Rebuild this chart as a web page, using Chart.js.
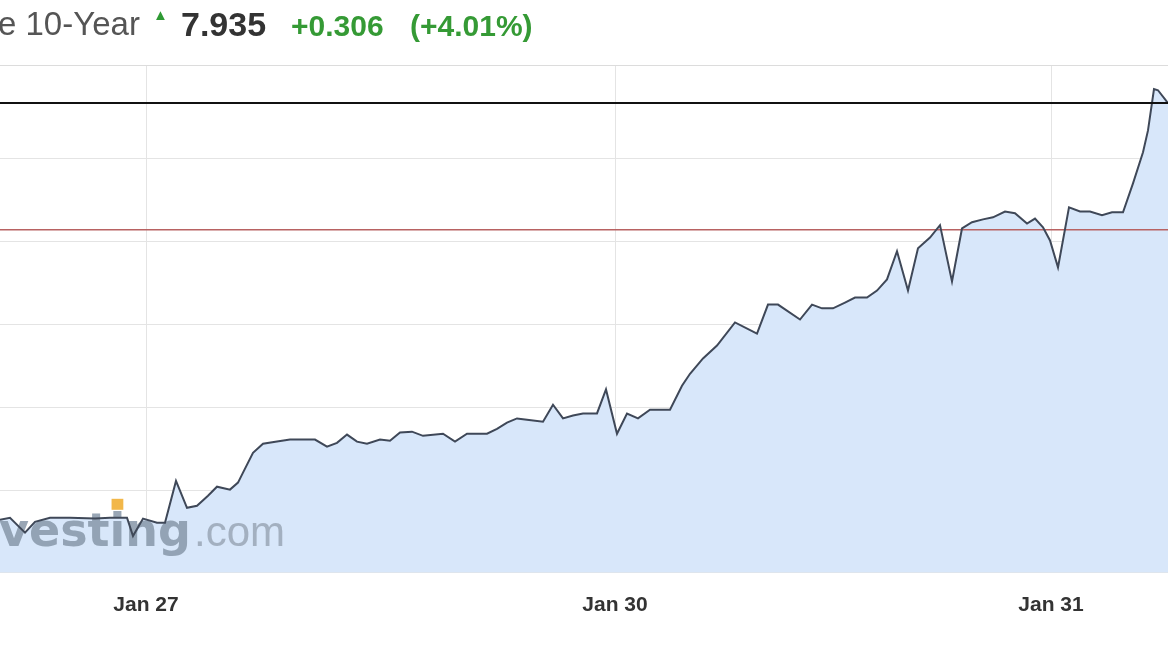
<!DOCTYPE html>
<html>
<head>
<meta charset="utf-8">
<script src="https://cdn.jsdelivr.net/npm/chart.js@4.4.1/dist/chart.umd.min.js"></script>
<style>
    body { margin: 0; background: #fff; overflow: hidden; }
    #wrap { position: relative; width: 1168px; height: 656px; }
    #chart { position: absolute; left: 0; top: 0; }
    .hdr { position: absolute; white-space: nowrap; font-family: "Liberation Sans", Arial, sans-serif; }
    .name { left: -2px; top: 7px; font-size: 33px; line-height: 34px; color: #555; }
    .arrow { left: 153px; top: 7px; font-size: 15px; line-height: 16px; color: #2f9a34; }
    .last { left: 181px; top: 7px; font-size: 34px; line-height: 34px; color: #333; font-weight: bold; }
    .chg { top: 11px; font-size: 30px; line-height: 30px; color: #359a35; font-weight: bold; }
</style>
</head>
<body>
<div id="wrap">
    <canvas id="chart" width="1168" height="656"></canvas>
    <div class="hdr name">e 10-Year</div>
    <div class="hdr arrow">&#9650;</div>
    <div class="hdr last">7.935</div>
    <div class="hdr chg" style="left:291px">+0.306</div>
    <div class="hdr chg" style="left:410px">(+4.01%)</div>
</div>
<script>
// quote position (intraday index) and yield
const times = [0, 1.0, 2.5, 3.5, 5.0, 7.0, 9.5, 11.0, 12.7, 13.3, 14.3, 15.7, 16.5, 17.6, 18.7, 19.7,
    20.8, 21.7, 23.0, 23.8, 24.3, 25.3, 26.3, 27.7, 29.0, 30.0, 31.5, 32.7, 33.7, 34.7, 35.7, 36.7,
    38.0, 39.0, 40.0, 41.2, 42.3, 44.3, 45.5, 46.7, 48.7, 49.7, 50.7, 51.7, 52.7, 54.3, 55.3, 56.3,
    57.3, 58.3, 59.7, 60.6, 61.7, 62.7, 63.8, 65.0, 67.0, 68.2, 69.0, 70.3, 71.7, 73.5, 75.7, 76.8,
    77.8, 80.0, 81.2, 82.2, 83.3, 84.5, 85.5, 86.7, 87.7, 88.7, 89.7, 90.8, 91.8, 93.0, 94.0, 95.2,
    96.2, 97.2, 98.3, 99.3, 100.5, 101.5, 102.7, 103.5, 104.3, 105.0, 105.8, 106.9, 108.0, 109.0,
    110.2, 111.2, 112.3, 113.3, 114.3, 114.8, 115.4, 115.8, 116.8];
const yields = [6.928, 6.933, 6.897, 6.923, 6.933, 6.933, 6.931, 6.933, 6.933, 6.889, 6.931, 6.921, 6.921, 7.022, 6.957, 6.962,
    6.986, 7.008, 7.001, 7.018, 7.042, 7.090, 7.112, 7.117, 7.122, 7.122, 7.122, 7.105, 7.114, 7.134, 7.117, 7.112,
    7.122, 7.119, 7.139, 7.141, 7.131, 7.136, 7.117, 7.136, 7.136, 7.148, 7.163, 7.173, 7.170, 7.165, 7.206, 7.173,
    7.180, 7.185, 7.185, 7.243, 7.136, 7.185, 7.173, 7.194, 7.194, 7.252, 7.281, 7.318, 7.349, 7.405, 7.378, 7.448,
    7.448, 7.412, 7.448, 7.439, 7.439, 7.453, 7.465, 7.465, 7.482, 7.509, 7.577, 7.482, 7.584, 7.610, 7.640, 7.504,
    7.632, 7.647, 7.654, 7.659, 7.673, 7.669, 7.644, 7.656, 7.635, 7.603, 7.538, 7.683, 7.673, 7.673,
    7.664, 7.671, 7.671, 7.741, 7.816, 7.869, 7.969, 7.966, 7.935];

const dayTicks = [14.6, 61.5, 105.1];
const dayLabels = ['Jan 27', 'Jan 30', 'Jan 31'];

const lastPrice = 7.935;
const prevClose = 7.629;

const FONT = '"Liberation Sans", Arial, sans-serif';

// watermark + price lines
const overlays = {
    id: 'overlays',
    beforeDatasetsDraw(chart) {
        const { ctx, chartArea, scales } = chart;
        ctx.save();
        // top frame line
        ctx.strokeStyle = '#dcdcdc';
        ctx.lineWidth = 1;
        ctx.beginPath();
        ctx.moveTo(chartArea.left, chartArea.top + 0.5);
        ctx.lineTo(chartArea.right, chartArea.top + 0.5);
        ctx.stroke();

        // previous close
        const yc = scales.y.getPixelForValue(prevClose);
        ctx.strokeStyle = '#b86262';
        ctx.lineWidth = 1.5;
        ctx.beginPath();
        ctx.moveTo(chartArea.left, yc);
        ctx.lineTo(chartArea.right, yc);
        ctx.stroke();

        // watermark
        const base = chartArea.bottom - 27;
        ctx.font = 'bold 46px "DejaVu Sans", sans-serif';
        const word = 'Investing';
        const wWord = ctx.measureText(word).width;
        const x0 = 191 - wWord;
        ctx.fillStyle = 'rgba(135, 150, 168, 0.85)';
        ctx.fillText(word, x0, base);
        // orange dot on the i
        const wBefore = ctx.measureText('Invest').width;
        const wI = ctx.measureText('i').width;
        ctx.fillStyle = '#f2b749';
        ctx.fillRect(x0 + wBefore + 2, base - 47, wI - 4, 11);
        ctx.font = '42px ' + FONT;
        ctx.fillStyle = 'rgba(150, 163, 178, 0.8)';
        ctx.fillText('.com', 194, base);
        ctx.restore();
    },
    afterDatasetsDraw(chart) {
        const { ctx, chartArea, scales } = chart;
        const yl = scales.y.getPixelForValue(lastPrice);
        ctx.save();
        ctx.strokeStyle = '#111';
        ctx.lineWidth = 2;
        ctx.beginPath();
        ctx.moveTo(chartArea.left, yl);
        ctx.lineTo(chartArea.right, yl);
        ctx.stroke();
        ctx.restore();
    }
};

new Chart(document.getElementById('chart'), {
    type: 'line',
    data: {
        datasets: [{
            data: times.map((t, i) => ({ x: t, y: yields[i] })),
            borderColor: '#3f4858',
            backgroundColor: '#d8e7fa',
            borderWidth: 2,
            pointRadius: 0,
            tension: 0,
            fill: 'start'
        }]
    },
    options: {
        responsive: false,
        animation: false,
        layout: { padding: { top: 65, bottom: 18, left: 0, right: 0 } },
        plugins: {
            legend: { display: false },
            tooltip: { enabled: false },
            filler: { drawTime: 'beforeDatasetsDraw' }
        },
        scales: {
            x: {
                type: 'linear',
                min: 0,
                max: 116.8,
                afterBuildTicks(axis) {
                    axis.ticks = dayTicks.map(v => ({ value: v }));
                },
                ticks: {
                    autoSkip: false,
                    maxRotation: 0,
                    padding: 20,
                    color: '#333',
                    font: { family: FONT, size: 21, weight: 'bold' },
                    callback(value) {
                        const i = dayTicks.indexOf(value);
                        return i >= 0 ? dayLabels[i] : '';
                    }
                },
                grid: { color: '#e4e4e4', drawTicks: false },
                border: { display: false }
            },
            y: {
                min: 6.8,
                max: 8.027,
                ticks: { display: false, stepSize: 0.2 },
                grid: { color: '#e4e4e4', drawTicks: false },
                border: { display: false }
            }
        }
    },
    plugins: [overlays]
});
</script>
</body>
</html>
